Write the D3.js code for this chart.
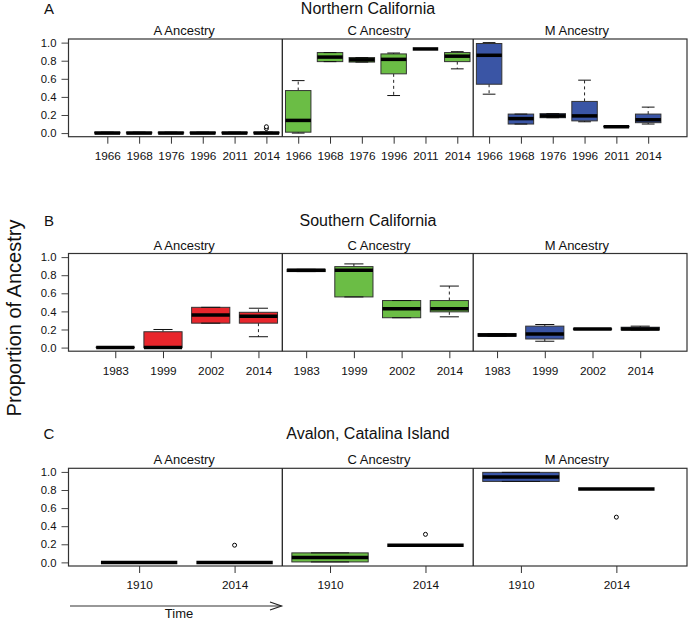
<!DOCTYPE html>
<html><head><meta charset="utf-8">
<script src="https://cdn.jsdelivr.net/npm/d3@7"></script>
<style>body{margin:0;background:#fff;} svg{display:block;font-family:"Liberation Sans",Arial,Helvetica,sans-serif;}</style>
</head><body><svg id="c" width="688" height="620"></svg>
<script>
// ---------- data ----------
const regions = ["Northern California", "Southern California", "Avalon, Catalina Island"];
const panelLetters = ["A", "B", "C"];
const ancestries = ["A Ancestry", "C Ancestry", "M Ancestry"];
const yTicks = [0, 0.2, 0.4, 0.6, 0.8, 1.0];
const colors = ["#E8262C", "#6BBD45", "#3A55A5"];

// box stats: [min, q1, median, q3, max]
const northYears = ["1966", "1968", "1976", "1996", "2011", "2014"];
const northA = [[0,0,0,0.01,0.01],[0,0,0,0.01,0.01],[0,0,0,0.01,0.01],[0,0,0,0.01,0.01],[0,0,0,0.01,0.01],[0,0,0,0.01,0.01]];
const northC = [[0.0,0.01,0.14,0.47,0.58],[0.79,0.79,0.84,0.89,0.89],[0.785,0.785,0.81,0.835,0.835],[0.415,0.655,0.815,0.875,0.885],[0.93,0.93,0.93,0.93,0.93],[0.71,0.79,0.85,0.89,0.90]];
const northM = [[0.43,0.54,0.86,0.99,1.0],[0.10,0.10,0.16,0.21,0.21],[0.17,0.17,0.19,0.215,0.215],[0.125,0.135,0.19,0.35,0.585],[0.07,0.07,0.07,0.075,0.075],[0.10,0.115,0.147,0.21,0.287]];
const northOutA = [[],[],[],[],[],[0.05,0.07]];
const northOutC = [[],[],[],[],[],[]];
const northOutM = [[],[],[],[],[],[]];

const southYears = ["1983", "1999", "2002", "2014"];
const southA = [[0,0,0,0.005,0.005],[0,0,0,0.175,0.2],[0.27,0.27,0.36,0.445,0.445],[0.12,0.27,0.345,0.39,0.435]];
const southC = [[0.84,0.84,0.855,0.865,0.865],[0.56,0.56,0.855,0.895,0.925],[0.33,0.33,0.43,0.52,0.52],[0.34,0.395,0.43,0.52,0.68]];
const southM = [[0.125,0.125,0.14,0.155,0.155],[0.07,0.095,0.15,0.237,0.255],[0.2,0.2,0.205,0.21,0.21],[0.195,0.195,0.205,0.225,0.237]];
const southOutA = [[],[],[],[]];
const southOutC = [[],[],[],[]];
const southOutM = [[],[],[],[]];

const avalonYears = ["1910", "2014"];
const avalonA = [[0,0,0,0,0],[0,0,0,0,0]];
const avalonC = [[0.005,0.005,0.055,0.105,0.105],[0.19,0.19,0.19,0.19,0.19]];
const avalonM = [[0.895,0.895,0.945,0.995,0.995],[0.81,0.81,0.81,0.81,0.81]];
const avalonOutA = [[],[0.19]];
const avalonOutC = [[],[0.31]];
const avalonOutM = [[],[0.50]];

const rows = [
  {years: northYears, stats: [northA, northC, northM], outs: [northOutA, northOutC, northOutM]},
  {years: southYears, stats: [southA, southC, southM], outs: [southOutA, southOutC, southOutM]},
  {years: avalonYears, stats: [avalonA, avalonC, avalonM], outs: [avalonOutA, avalonOutC, avalonOutM]}
];

// ---------- layout ----------
const svg = d3.select("#c");
const left = 68.5, right = 687, panelH = 97.7;
const tops = [39, 253.5, 468.3];
const titleY = [13.5, 225.5, 438.5];
const titleFrac = [0.187, 0.502, 0.822];
const FONT = '"Liberation Sans", Arial, Helvetica, sans-serif';

rows.forEach((row, r) => {
  const top = tops[r], bottom = top + panelH;
  const k = row.years.length, n = k * 3;
  const x = d3.scaleLinear().domain([0.5 - 0.04 * n, n + 0.5 + 0.04 * n]).range([left, right]);
  const y = d3.scaleLinear().domain([-0.04, 1.04]).range([bottom, top]);
  const g = svg.append("g");
  const bw = (x(1) - x(0)) * 0.8;

  // y axis
  g.append("g").attr("transform", `translate(${left},0)`)
    .call(d3.axisLeft(y).tickValues(yTicks).tickFormat(d3.format(".1f")).tickSize(7).tickPadding(5))
    .call(a => {
      a.attr("font-family", FONT);
      a.select(".domain").remove();
      a.selectAll("text").attr("font-size", 11.3).attr("fill", "#111");
      a.selectAll("line").attr("stroke", "#444");
    });
  // x axis
  const pos = d3.range(1, n + 1);
  g.append("g").attr("transform", `translate(0,${bottom})`)
    .call(d3.axisBottom(x).tickValues(pos).tickFormat(p => row.years[(p - 1) % k]).tickSize(7).tickPadding(8))
    .call(a => {
      a.attr("font-family", FONT);
      a.select(".domain").remove();
      a.selectAll("text").attr("font-size", 11.8).attr("fill", "#111");
      a.selectAll("line").attr("stroke", "#333");
    });

  // boxes
  row.stats.forEach((grp, ai) => {
    grp.forEach((s, j) => {
      const p = ai * k + j + 1;
      const cx = x(p);
      const [mn, q1, md, q3, mx] = s;
      const bg = g.append("g");
      if (mx > q3) {
        bg.append("line").attr("x1", cx).attr("x2", cx).attr("y1", y(q3)).attr("y2", y(mx))
          .attr("stroke", "#222").attr("stroke-dasharray", "3,3");
      }
      if (mn < q1) {
        bg.append("line").attr("x1", cx).attr("x2", cx).attr("y1", y(q1)).attr("y2", y(mn))
          .attr("stroke", "#222").attr("stroke-dasharray", "3,3");
      }
      bg.append("rect").attr("x", cx - bw / 2).attr("width", bw)
        .attr("y", y(q3)).attr("height", Math.max(0, y(q1) - y(q3)))
        .attr("fill", colors[ai]).attr("stroke", "#333").attr("stroke-width", 1);
      [mn, mx].forEach(v => {
        bg.append("line").attr("x1", cx - bw / 4).attr("x2", cx + bw / 4)
          .attr("y1", y(v)).attr("y2", y(v)).attr("stroke", "#111").attr("stroke-width", 1);
      });
      bg.append("line").attr("x1", cx - bw / 2).attr("x2", cx + bw / 2)
        .attr("y1", y(md)).attr("y2", y(md)).attr("stroke", "#000").attr("stroke-width", 3.5);
      row.outs[ai][j].forEach(v => {
        bg.append("circle").attr("cx", cx).attr("cy", y(v)).attr("r", 2)
          .attr("fill", "#fff").attr("stroke", "#000").attr("stroke-width", 1);
      });
    });
  });

  // frame
  g.append("rect").attr("x", left).attr("y", top).attr("width", right - left).attr("height", panelH)
    .attr("fill", "none").attr("stroke", "#333").attr("stroke-width", 1.2);
  // dividers
  [k + 0.5, 2 * k + 0.5].forEach(d => {
    g.append("line").attr("x1", x(d)).attr("x2", x(d)).attr("y1", top).attr("y2", bottom)
      .attr("stroke", "#222").attr("stroke-width", 1.3);
  });
  // subpanel titles
  ancestries.forEach((t, i) => {
    g.append("text").attr("x", left + (right - left) * titleFrac[i]).attr("y", top - 4)
      .attr("text-anchor", "middle").attr("font-size", 13).attr("fill", "#111").text(t);
  });
  // region title & letter
  g.append("text").attr("x", 368).attr("y", titleY[r]).attr("text-anchor", "middle")
    .attr("font-size", 16).attr("fill", "#111").text(regions[r]);
  g.append("text").attr("x", 49).attr("y", titleY[r]).attr("text-anchor", "middle")
    .attr("font-size", 15).attr("fill", "#111").text(panelLetters[r]);
});

// y label
svg.append("text").attr("transform", "translate(21,318) rotate(-90)").attr("text-anchor", "middle")
  .attr("font-size", 20).attr("fill", "#111").text("Proportion of Ancestry");

// time arrow
svg.append("line").attr("x1", 70).attr("x2", 281.5).attr("y1", 606).attr("y2", 606)
  .attr("stroke", "#333").attr("stroke-width", 1.2);
svg.append("path").attr("d", "M270,602 L281.5,606 L270,610").attr("fill", "none")
  .attr("stroke", "#222").attr("stroke-width", 1.2);
svg.append("text").attr("x", 179).attr("y", 618).attr("text-anchor", "middle")
  .attr("font-size", 13).attr("fill", "#111").text("Time");
</script></body></html>
